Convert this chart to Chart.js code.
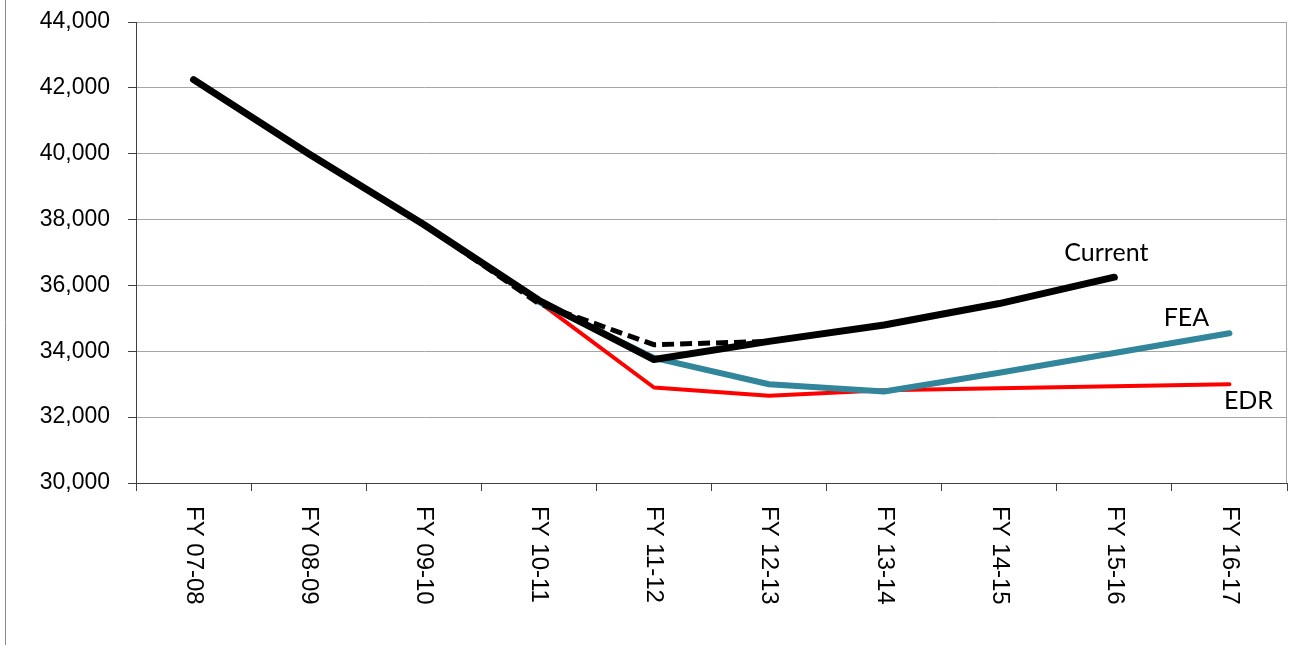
<!DOCTYPE html>
<html>
<head>
<meta charset="utf-8">
<script src="https://cdn.jsdelivr.net/npm/chart.js@4"></script>
<style>
  body { margin: 0; background: #fff; }
  #wrap { width: 1291px; height: 645px; }
</style>
</head>
<body>
<div id="wrap"><canvas id="enroll" width="1291" height="645"></canvas></div>
<script>
// fiscal years on the x axis
const years = ['FY 07-08', 'FY 08-09', 'FY 09-10', 'FY 10-11', 'FY 11-12',
               'FY 12-13', 'FY 13-14', 'FY 14-15', 'FY 15-16', 'FY 16-17']

// series
const current = [42250, 40000, 37850, 35550, 33750, 34300, 34800, 35450, 36250, null]
const dashed  = [null, null, 37850, 35450, 34200, 34300, null, null, null, null]
const fea     = [null, null, null, 35500, 33800, 33000, 32780, 33350, 33950, 34550]
const edr     = [null, null, null, 35500, 32900, 32650, 32820, 32880, 32940, 33000]

const yTicks = [30000, 32000, 34000, 36000, 38000, 40000, 42000, 44000]
const seriesNames = ['Current', 'FEA', 'EDR']

// draws frame, right edge, rotated year labels and the series names
const extras = {
  id: 'extras',
  afterDraw(chart) {
    const c = chart.ctx
    const a = chart.chartArea
    const x = chart.scales.x
    const y = chart.scales.y
    c.save()
    // left frame line
    c.strokeStyle = '#8c8c8c'
    c.lineWidth = 1
    c.beginPath()
    c.moveTo(5.5, 0)
    c.lineTo(5.5, chart.height)
    c.stroke()
    // right edge of plot
    c.strokeStyle = '#a6a6a6'
    c.beginPath()
    c.moveTo(a.right - 0.5, a.top)
    c.lineTo(a.right - 0.5, a.bottom)
    c.stroke()

    // year labels, turned clockwise
    c.fillStyle = '#000'
    c.font = '24px Arial, "Liberation Sans", sans-serif'
    c.textAlign = 'left'
    c.textBaseline = 'middle'
    years.forEach((lab, i) => {
      c.save()
      c.translate(x.getPixelForValue(i), a.bottom + 23)
      c.rotate(Math.PI / 2)
      c.fillText(lab, 0, 0)
      c.restore()
    })

    // series names next to their last points
    c.font = '25px Lato, "Open Sans", sans-serif'
    c.textAlign = 'center'
    c.textBaseline = 'middle'
    const lastIdx = arr => { let k = arr.length - 1; while (arr[k] == null) k--; return k }
    const put = (name, arr, dx, dy) => {
      const k = lastIdx(arr)
      c.fillText(name, x.getPixelForValue(k) + dx, y.getPixelForValue(arr[k]) + dy)
    }
    put(seriesNames[0], current, -8, -24)
    put(seriesNames[1], fea, -43, -15)
    put(seriesNames[2], edr, 19, 17)
    c.restore()
  }
}

new Chart(document.getElementById('enroll'), {
  type: 'line',
  data: {
    labels: years,
    datasets: [
      { label: 'Current', data: current, borderColor: '#000', borderWidth: 7,
        borderCapStyle: 'round', borderJoinStyle: 'round' },
      { label: 'Current (dashed)', data: dashed, borderColor: '#000', borderWidth: 5,
        borderDash: [12, 6] },
      { label: 'FEA', data: fea, borderColor: '#31869b', borderWidth: 6,
        borderCapStyle: 'round', borderJoinStyle: 'round' },
      { label: 'EDR', data: edr, borderColor: '#ff0000', borderWidth: 4,
        borderCapStyle: 'round', borderJoinStyle: 'round' }
    ]
  },
  options: {
    responsive: false,
    animation: false,
    devicePixelRatio: 1,
    spanGaps: false,
    elements: { point: { radius: 0 }, line: { tension: 0 } },
    layout: { padding: { top: 22, right: 4, left: 0, bottom: 0 } },
    plugins: { legend: { display: false }, tooltip: { enabled: false } },
    scales: {
      x: {
        offset: true,
        grid: { offset: true, drawOnChartArea: false, drawTicks: true, tickLength: 8, color: '#404040' },
        border: { color: '#404040', width: 1 },
        ticks: { display: false },
        afterFit: s => { s.height = 162 }
      },
      y: {
        min: yTicks[0],
        max: yTicks[yTicks.length - 1],
        afterBuildTicks: s => { s.ticks = yTicks.map(v => ({ value: v })) },
        grid: { color: '#a6a6a6', lineWidth: 1, tickLength: 8, tickColor: '#404040' },
        border: { color: '#404040', width: 1 },
        ticks: {
          color: '#000',
          padding: 18,
          font: { family: 'Arial, "Liberation Sans", sans-serif', size: 23 },
          callback: v => v.toLocaleString('en-US')
        },
        afterFit: s => { s.width = 136; s.paddingTop = 0; s.paddingBottom = 0 }
      }
    }
  },
  plugins: [extras]
})
</script>
</body>
</html>
